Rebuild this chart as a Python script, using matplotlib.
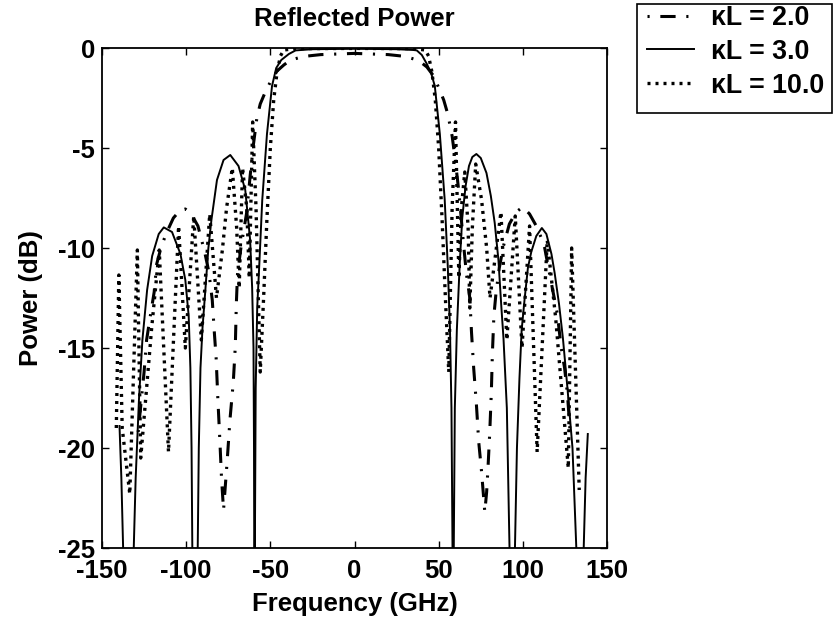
import matplotlib
matplotlib.use('Agg')
import matplotlib.pyplot as plt
from matplotlib.patches import Rectangle

plt.rcParams['font.family'] = ['Liberation Sans', 'DejaVu Sans']
plt.rcParams['font.weight'] = 'bold'
plt.rcParams['axes.unicode_minus'] = False

# kappa*L = 2.0 (dash-dot)
kl2_freq = [-128.5, -127, -125, -123.5, -121.5, -119, -117.5, -115, -112, -107.6, -104, -100.5, -97, -93,
            -89, -86.5, -84.5, -83.2, -82.2, -81.2, -80, -79, -77.8, -75.6, -74, -72, -70.8, -70.2, -69.5,
            -67.5, -64, -62, -60, -58, -56, -53, -50, -46, -42, -38, -30, -20, 0, 20, 30, 38, 43, 47, 50.6,
            53, 55.4, 58, 60, 62, 63.5, 65, 66.5, 68.5, 69.5, 70.8, 72.4, 73.8, 75.5, 77.4, 78.5, 79.3, 80.3,
            81.3, 81.9, 82.8, 84, 86, 88.5, 92, 96, 100, 104, 108, 111, 113, 115, 117.5, 120.5, 122.8, 124.8,
            126.5, 128]
kl2_db = [-19.2, -17.9, -16.2, -14.6, -13.5, -12.2, -10.8, -10.0, -9.3, -8.5, -8.15, -8.05, -8.3, -8.9,
          -10.2, -11.2, -12.6, -14.3, -15.5, -17.5, -19.6, -21.5, -23.1, -20.6, -18.6, -16.7, -14.9, -12.8,
          -11.3, -10.0, -8.2, -6.4, -4.8, -3.5, -2.8, -2.2, -1.7, -1.15, -0.85, -0.6, -0.42, -0.33, -0.27,
          -0.33, -0.42, -0.62, -0.95, -1.4, -2.1, -2.6, -3.3, -4.4, -5.7, -7.2, -8.6, -10.0, -11.3, -12.5,
          -14.2, -16.0, -17.8, -19.7, -21.2, -23.2, -22.2, -21.0, -19.3, -17.2, -15.3, -13.4, -12.3, -11.0,
          -9.9, -8.8, -8.2, -7.95, -8.3, -8.9, -9.5, -10.0, -10.9, -12.0, -13.3, -15.0, -16.0, -17.3, -19.1]

# kappa*L = 3.0 (solid)
kl3_freq = [-139.6, -138.5, -137.3, -135, -131.3, -130, -128, -126, -123.2, -120.2, -116.3, -113.3, -108.4,
            -103.4, -100.5, -98.5, -97.5, -96.8, -96.3, -95, -93.2, -92.5, -91.5, -90.3, -88.6, -86.8, -85,
            -81.7, -77.8, -73.8, -68.9, -64.9, -62, -60.8, -60, -59.7, -59.5, -59.3, -58.7, -57.8, -56.6,
            -54.8, -52, -49, -46.5, -43.5, -39, -35, -25, 0, 25, 35, 37, 40, 42.8, 45.5, 47.7, 50.7, 53.6,
            55.4, 56.7, 57.6, 58.4, 58.8, 59.6, 60.8, 62.5, 64, 66, 68, 70, 72.4, 75, 78.4, 81, 83.3, 85.5,
            87.2, 88.5, 90.5, 92.2, 93.8, 95.2, 96.5, 98, 99.3, 101, 103, 105, 108, 111.3, 114, 117, 118.9,
            121.5, 123.8, 126.5, 129.5, 132, 134, 136, 137.3, 138.6]
kl3_db = [-18.9, -21.5, -25.5, -32, -25.5, -21.5, -17.5, -14.6, -12.1, -10.4, -9.3, -8.97, -9.2, -10.3,
          -11.6, -13.4, -16, -20, -25.5, -32, -25.5, -20, -16, -14, -12.1, -10, -8.6, -6.6, -5.6, -5.35,
          -5.9, -7.1, -9.6, -12, -15, -20, -27, -27, -17, -13, -10.9, -7.6, -4.3, -1.9, -1.0, -0.6, -0.3,
          -0.12, -0.06, -0.04, -0.06, -0.1, -0.12, -0.35, -0.77, -1.25, -1.9, -4.3, -7.6, -10.9, -14, -18,
          -27, -27, -18, -14.1, -10.8, -8.5, -6.9, -5.9, -5.45, -5.3, -5.5, -6.25, -7.4, -8.75, -10.6,
          -12.9, -14.5, -18, -25.5, -32, -25.5, -20, -16.5, -14.1, -12.6, -11, -10.2, -9.4, -9.0, -9.3,
          -10.3, -11.25, -12.8, -14.5, -17, -20, -25.5, -32, -25.5, -21.5, -19.3]

# kappa*L = 10.0 (dotted)
kl10_freq = [-141.5, -140, -138, -133.5, -129, -127, -120.5, -116, -110.5, -104.5, -100.5, -95.5, -91, -86,
             -82, -78.5, -76, -72.6, -70, -68.5, -66.5, -64, -62.5, -60.5, -58.5, -56, -54, -52, -50, -48,
             -46, -44, -42, -35, 0, 35, 42, 44, 46, 48, 50, 52, 54, 56, 58, 60, 62, 63.5, 65.5, 67.5, 68.5,
             70, 72, 75.5, 78.5, 80.5, 87, 90.5, 95.5, 99.5, 104, 108.5, 114.5, 119.5, 127, 129, 133.5]
kl10_db = [-19, -11.35, -19, -22.3, -10.1, -20.5, -14, -10.1, -20.2, -8.9, -15, -8.4, -14.6, -8.3, -12.5,
           -10.1, -8, -6, -9, -12, -6, -8, -11.5, -3.7, -8, -16.2, -12.5, -8.5, -5, -2.6, -1.2, -0.4, -0.1,
           -0.03, -0.02, -0.03, -0.1, -0.4, -1.2, -2.6, -5, -8.5, -12.5, -16.2, -8, -3.7, -11.5, -8, -6.2,
           -9, -13, -9, -5.8, -7.6, -10, -12.5, -8.2, -14.6, -8.4, -15, -8.9, -20.2, -9.6, -13.5, -21, -10,
           -22.1]

labels = ['\u03baL = 2.0', '\u03baL = 3.0', '\u03baL = 10.0']
x_ticks = [-150, -100, -50, 0, 50, 100, 150]
y_ticks = [-25, -20, -15, -10, -5, 0]

W, H = 835, 624
fig = plt.figure(figsize=(W / 100, H / 100), dpi=100)
ax = fig.add_axes([102 / W, 1 - 548 / H, 505 / W, 500 / H])

dashdot = (8.5, (5.0, 3.5, 0.7, 3.5))
dotted = (0, (0.9, 1.5))
ax.plot(kl2_freq, kl2_db, color='black', lw=2.2, linestyle=dashdot, label=labels[0])
ax.plot(kl3_freq, kl3_db, color='black', lw=1.4, linestyle='-', label=labels[1])
ax.plot(kl10_freq, kl10_db, color='black', lw=2.4, linestyle=dotted, label=labels[2])

ax.set_xlim(-150, 150)
ax.set_ylim(-25, 0)
ax.set_xticks(x_ticks)
ax.set_yticks(y_ticks)
ax.tick_params(direction='in', top=True, right=True, length=5, width=1, labelsize=18.5)
ax.tick_params(axis='x', pad=8)
ax.tick_params(axis='y', pad=5)
for s in ax.spines.values():
    s.set_linewidth(1.3)

ax.set_title('Reflected Power', fontsize=18.5, fontweight='bold', pad=16)
ax.set_xlabel('Frequency (GHz)', fontsize=18.5, fontweight='bold')
ax.set_ylabel('Power (dB)', fontsize=18.5, fontweight='bold')
ax.xaxis.set_label_coords(0.5, -0.088)
ax.yaxis.set_label_coords(-0.117, 0.5)

leg = fig.legend(loc='upper left', bbox_to_anchor=(647 / W, 1 - 5 / H), fontsize=19.3,
                 frameon=False, handlelength=1.75, handletextpad=0.62,
                 labelspacing=0.29, borderpad=0.0, borderaxespad=0)
for t in leg.get_texts():
    t.set_fontweight('bold')
fig.patches.append(Rectangle((637 / W, 1 - 113 / H), 195 / W, 109 / H, transform=fig.transFigure,
                             fill=False, lw=1.2, ec='black'))

fig.savefig('out.png', dpi=100)
